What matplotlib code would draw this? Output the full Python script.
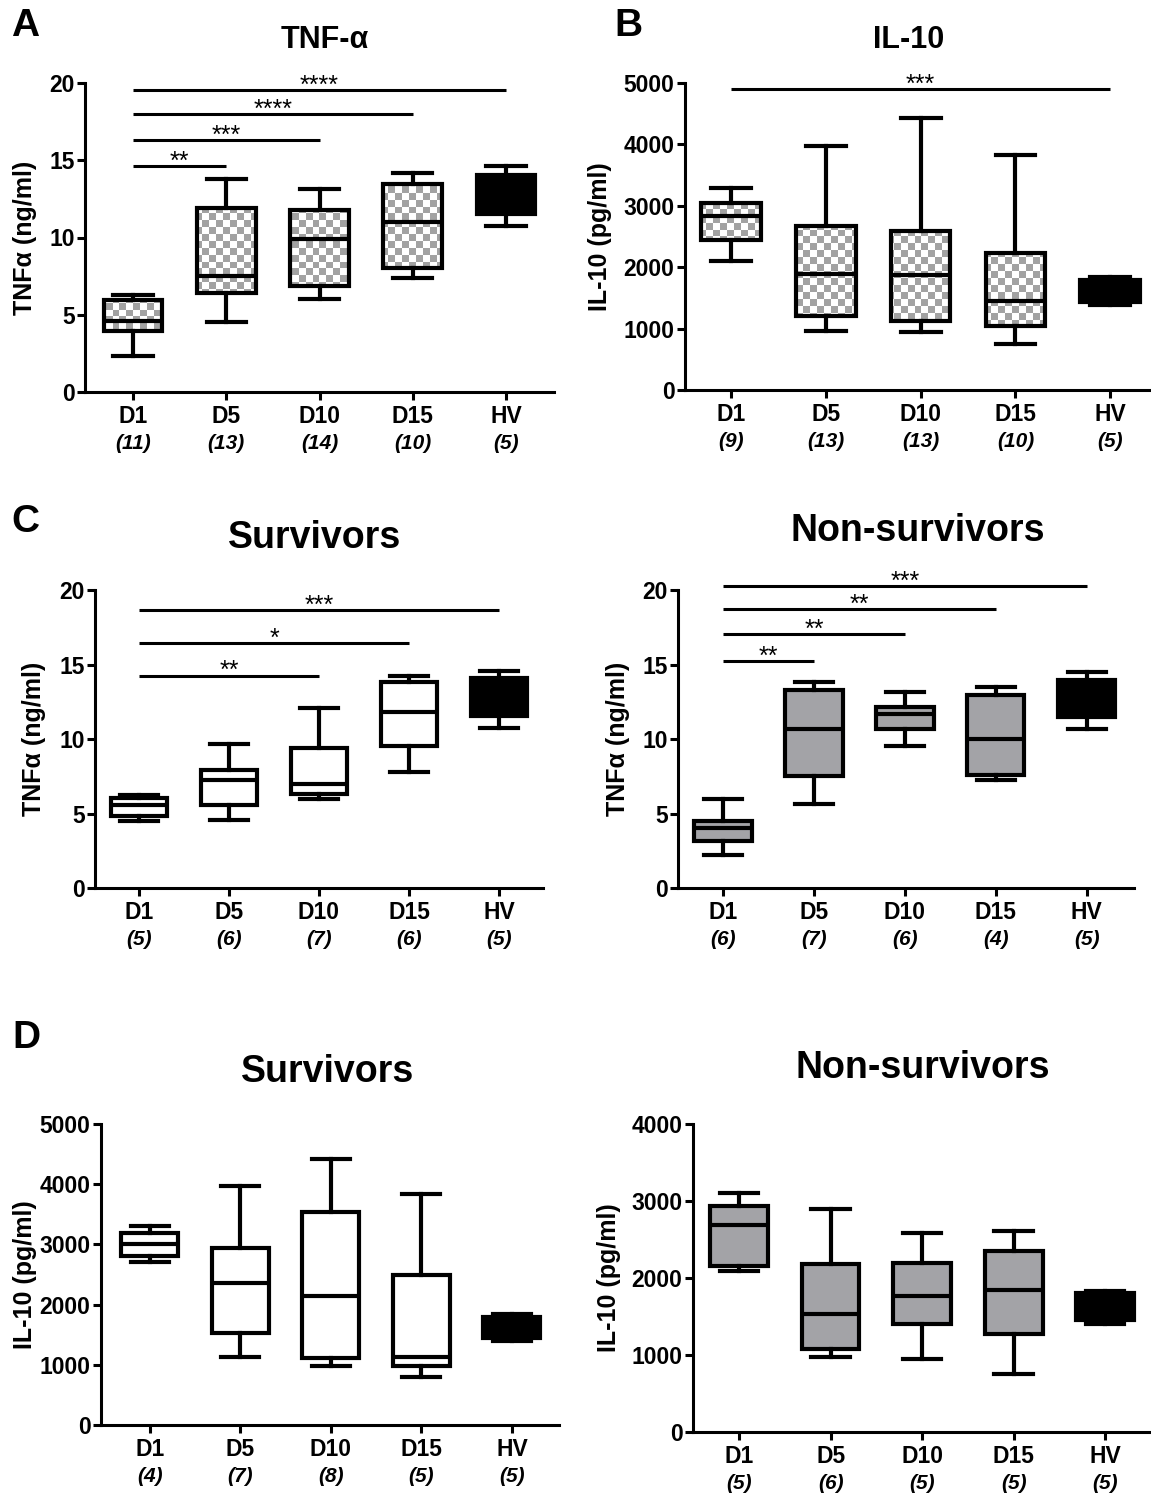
import numpy as np
import matplotlib
matplotlib.use("Agg")
import matplotlib.pyplot as plt
from matplotlib.colors import ListedColormap

plt.rcParams["font.family"] = ["Liberation Sans", "DejaVu Sans"]
plt.rcParams["font.weight"] = "bold"

W, H = 1151, 1496
GROUPS = ["D1", "D5", "D10", "D15", "HV"]

# A - TNF-alpha, todos los pacientes
tnf_all_lo = [2.31, 4.53, 6.04, 7.40, 10.74]
tnf_all_q1 = [3.93, 6.41, 6.84, 8.05, 11.54]
tnf_all_med = [4.57, 7.49, 9.88, 11.02, 12.80]
tnf_all_q3 = [5.93, 11.93, 11.80, 13.48, 14.05]
tnf_all_hi = [6.28, 13.79, 13.14, 14.17, 14.60]
tnf_all_n = [11, 13, 14, 10, 5]
tnf_all_sig_to = [1, 2, 3, 4]
tnf_all_sig_y = [14.63, 16.29, 17.97, 19.57]
tnf_all_sig_txt = ["**", "***", "****", "****"]

# B - IL-10, todos los pacientes
il10_all_lo = [2109, 967, 951, 750, 1386]
il10_all_q1 = [2446, 1212, 1125, 1043, 1429]
il10_all_med = [2837, 1886, 1870, 1457, 1620]
il10_all_q3 = [3043, 2674, 2587, 2228, 1793]
il10_all_hi = [3283, 3967, 4429, 3832, 1848]
il10_all_n = [9, 13, 13, 10, 5]
il10_all_sig_to = [4]
il10_all_sig_y = [4908]
il10_all_sig_txt = ["***"]

# C - TNF-alpha, supervivientes
tnf_surv_lo = [4.47, 4.54, 5.97, 7.78, 10.77]
tnf_surv_q1 = [4.80, 5.54, 6.30, 9.50, 11.55]
tnf_surv_med = [5.60, 7.22, 6.99, 11.84, 12.80]
tnf_surv_q3 = [6.05, 7.93, 9.39, 13.85, 14.08]
tnf_surv_hi = [6.26, 9.68, 12.07, 14.26, 14.57]
tnf_surv_n = [5, 6, 7, 6, 5]
tnf_surv_sig_to = [2, 3, 4]
tnf_surv_sig_y = [14.26, 16.42, 18.66]
tnf_surv_sig_txt = ["**", "*", "***"]

# C - TNF-alpha, no supervivientes
tnf_dead_lo = [2.19, 5.63, 9.54, 7.22, 10.68]
tnf_dead_q1 = [3.17, 7.53, 10.68, 7.60, 11.46]
tnf_dead_med = [4.02, 10.70, 11.66, 9.99, 12.80]
tnf_dead_q3 = [4.47, 13.30, 12.18, 12.92, 13.97]
tnf_dead_hi = [5.99, 13.83, 13.18, 13.52, 14.53]
tnf_dead_n = [6, 7, 6, 4, 5]
tnf_dead_sig_to = [1, 2, 3, 4]
tnf_dead_sig_y = [15.26, 17.03, 18.70, 20.29]
tnf_dead_sig_txt = ["**", "**", "**", "***"]

# D - IL-10, supervivientes
il10_surv_lo = [2713, 1135, 980, 803, 1395]
il10_surv_q1 = [2807, 1534, 1107, 980, 1440]
il10_surv_med = [3001, 2364, 2148, 1135, 1620]
il10_surv_q3 = [3195, 2934, 3544, 2492, 1789]
il10_surv_hi = [3306, 3976, 4419, 3837, 1844]
il10_surv_n = [4, 7, 8, 5, 5]

# D - IL-10, no supervivientes
il10_dead_lo = [2095, 976, 954, 759, 1401]
il10_dead_q1 = [2160, 1076, 1401, 1271, 1453]
il10_dead_med = [2690, 1527, 1770, 1844, 1620]
il10_dead_q3 = [2937, 2178, 2191, 2351, 1809]
il10_dead_hi = [3102, 2894, 2581, 2612, 1831]
il10_dead_n = [5, 6, 5, 5, 5]

LW = 3.0
GRAY = "#a3a3a7"
CHECK = "#a2a2a2"


def px(x, y):
    return x / W, 1 - y / H


def make_axes(fig, left, right, top, bottom):
    return fig.add_axes([left / W, 1 - bottom / H, (right - left) / W, (bottom - top) / H])


def checker(ax, patch, cell=7):
    bb = ax.get_window_extent()
    cols = int(bb.width / cell) + 1
    rows = int(bb.height / cell) + 1
    board = np.add.outer(np.arange(rows), np.arange(cols)) % 2
    im = ax.imshow(board, cmap=ListedColormap(["white", CHECK]), extent=(0, 1, 0, 1),
                   transform=ax.transAxes, aspect="auto", interpolation="nearest", zorder=1.5)
    im.set_clip_path(patch)


def panel(ax, lo, q1, med, q3, hi, n, fill, ymax, ystep, xlim, ylabel, label_right):
    stats = []
    for i in range(len(GROUPS)):
        stats.append({"whislo": lo[i], "q1": q1[i], "med": med[i], "q3": q3[i],
                      "whishi": hi[i], "fliers": []})
    pos = np.arange(len(GROUPS))
    bp = ax.bxp(stats, positions=pos, widths=0.63, capwidths=0.42, patch_artist=True,
                showfliers=False, manage_ticks=False,
                boxprops=dict(linewidth=LW, edgecolor="black"),
                whiskerprops=dict(linewidth=LW, color="black"),
                capprops=dict(linewidth=LW, color="black"),
                medianprops=dict(linewidth=LW, color="black", solid_capstyle="butt"))
    for i, box in enumerate(bp["boxes"]):
        box.set_joinstyle("miter")
        if GROUPS[i] == "HV":
            box.set_facecolor("black")
        elif fill == "check":
            box.set_facecolor("none")
            checker(ax, box)
        elif fill == "gray":
            box.set_facecolor(GRAY)
        else:
            box.set_facecolor("white")

    ax.set_xlim(*xlim)
    ax.set_ylim(0, ymax)
    ax.set_yticks(np.arange(0, ymax + 1, ystep))
    ax.set_xticks(pos)
    ax.set_xticklabels(GROUPS)
    for s in ["top", "right"]:
        ax.spines[s].set_visible(False)
    for s in ["left", "bottom"]:
        ax.spines[s].set_linewidth(2.2)
    ax.tick_params(axis="both", direction="out", length=5.5, width=2.2, labelsize=16.5)
    ax.tick_params(axis="y", pad=2)
    ax.tick_params(axis="x", pad=4)
    for t in ax.get_xticklabels() + ax.get_yticklabels():
        t.set_fontweight("bold")
    for i, k in enumerate(n):
        ax.annotate(f"({k})", xy=(i, 0), xycoords=("data", "axes fraction"),
                    xytext=(0, -37), textcoords="offset points", ha="center", va="center",
                    fontsize=15, fontstyle="italic", fontweight="bold")
    ax.set_ylabel(ylabel, fontsize=18, fontweight="bold")
    bb = ax.get_position()
    ax.yaxis.set_label_coords((label_right / W - bb.x0) / bb.width, 0.5)


def sig_bars(ax, to, ys, txts):
    for t, y, s in zip(to, ys, txts):
        ax.plot([0, t], [y, y], color="black", lw=2.2, clip_on=False, solid_capstyle="butt")
        ax.annotate(s, xy=(t / 2, y), xytext=(0, -2), textcoords="offset points",
                    ha="center", va="baseline", fontsize=18, fontweight="normal",
                    annotation_clip=False)


fig = plt.figure(figsize=(W / 100, H / 100), dpi=100)

ax_a = make_axes(fig, 85, 554, 83, 392)
panel(ax_a, tnf_all_lo, tnf_all_q1, tnf_all_med, tnf_all_q3, tnf_all_hi, tnf_all_n,
      "check", 20, 5, (-0.515, 4.515), "TNFα (ng/ml)", 37)
sig_bars(ax_a, tnf_all_sig_to, tnf_all_sig_y, tnf_all_sig_txt)

ax_b = make_axes(fig, 685, 1151, 83, 390)
panel(ax_b, il10_all_lo, il10_all_q1, il10_all_med, il10_all_q3, il10_all_hi, il10_all_n,
      "check", 5000, 1000, (-0.485, 4.43), "IL-10 (pg/ml)", 612)
sig_bars(ax_b, il10_all_sig_to, il10_all_sig_y, il10_all_sig_txt)

ax_c1 = make_axes(fig, 95, 543, 590, 888)
panel(ax_c1, tnf_surv_lo, tnf_surv_q1, tnf_surv_med, tnf_surv_q3, tnf_surv_hi, tnf_surv_n,
      "white", 20, 5, (-0.49, 4.49), "TNFα (ng/ml)", 46)
sig_bars(ax_c1, tnf_surv_sig_to, tnf_surv_sig_y, tnf_surv_sig_txt)

ax_c2 = make_axes(fig, 678, 1134, 590, 888)
panel(ax_c2, tnf_dead_lo, tnf_dead_q1, tnf_dead_med, tnf_dead_q3, tnf_dead_hi, tnf_dead_n,
      "gray", 20, 5, (-0.495, 4.52), "TNFα (ng/ml)", 630)
sig_bars(ax_c2, tnf_dead_sig_to, tnf_dead_sig_y, tnf_dead_sig_txt)

ax_d1 = make_axes(fig, 101, 559, 1124, 1425)
panel(ax_d1, il10_surv_lo, il10_surv_q1, il10_surv_med, il10_surv_q3, il10_surv_hi, il10_surv_n,
      "white", 5000, 1000, (-0.54, 4.52), "IL-10 (pg/ml)", 37)

ax_d2 = make_axes(fig, 693, 1151, 1124, 1432)
panel(ax_d2, il10_dead_lo, il10_dead_q1, il10_dead_med, il10_dead_q3, il10_dead_hi, il10_dead_n,
      "gray", 4000, 1000, (-0.503, 4.5), "IL-10 (pg/ml)", 621)

# Títulos y letras de panel
titles = [("TNF-α", 325, 40, 22), ("IL-10", 909, 40, 22),
          ("Survivors", 315, 538, 27), ("Non-survivors", 918, 531, 27),
          ("Survivors", 328, 1072, 27), ("Non-survivors", 923, 1068, 27)]
for txt, x, y, fs in titles:
    fig.text(*px(x, y), txt, ha="center", va="center", fontsize=fs, fontweight="bold")

letters = [("A", 25, 26), ("B", 628, 26), ("C", 25, 522), ("D", 26, 1038)]
for txt, x, y in letters:
    fig.text(*px(x, y), txt, ha="center", va="center", fontsize=28, fontweight="bold")

fig.savefig("out.png", dpi=100, facecolor="white")
